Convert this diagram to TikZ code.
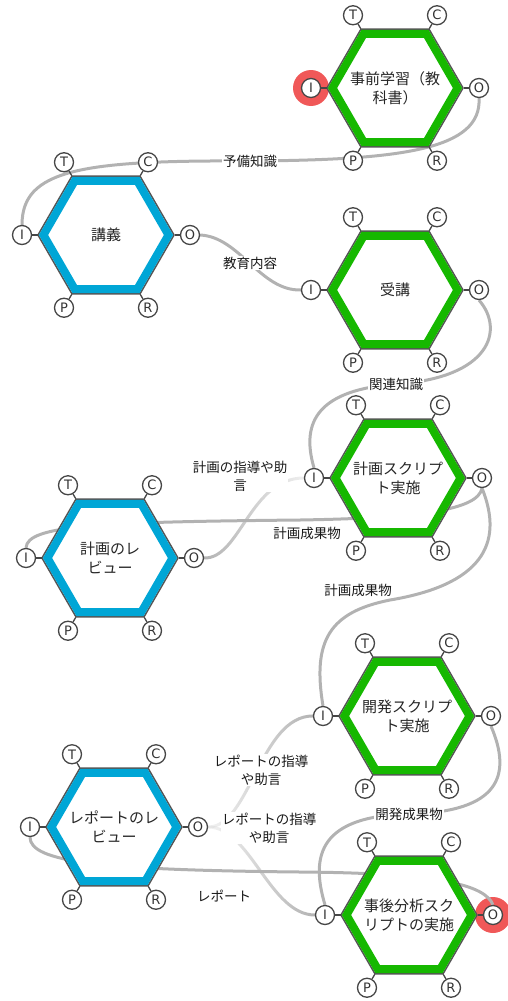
\documentclass[tikz,border=0pt]{standalone}
\usepackage{fontspec}
\setmainfont{Noto Sans CJK JP}
\newfontfamily\portfont{DejaVu Sans}
\usetikzlibrary{fadings}
\pgfdeclarelayer{background}
\pgfsetlayers{background,main}
\definecolor{framgreen}{RGB}{22,184,0}
\definecolor{framblue}{RGB}{0,166,214}
\definecolor{hexline}{RGB}{85,85,85}
\definecolor{conngray}{RGB}{178,178,178}
\definecolor{hilite}{RGB}{240,88,88}
\definecolor{portline}{RGB}{70,70,70}
\tikzfading[name=fadetoright, left color=transparent!0, middle color=transparent!15, right color=transparent!80]
\tikzfading[name=fadefromleft, left color=transparent!85, middle color=transparent!0, right color=transparent!0]
\tikzset{
  hexouter/.style={fill=white, draw=hexline, line width=1.5pt},
  hexring/.style={line width=8pt},
  hextext/.style={circle, inner sep=0pt, align=center, text=black!85,
    font=\fontsize{15}{19}\selectfont},
  port/.style={circle, draw=portline, line width=1.3pt, fill=white,
    minimum size=19pt, inner sep=0pt, text=black!80,
    font=\portfont\fontsize{13}{13}\selectfont},
  stub/.style={draw=portline, line width=1.3pt},
  conn/.style={draw=conngray, line width=3pt},
  elabel/.style={fill=white, inner sep=1pt, align=center, text=black!90,
    font=\fontsize{13.5}{18}\selectfont},
  hilitec/.style={circle, fill=hilite, minimum size=36pt, inner sep=0pt}
}
\newcommand\framfn[5]{%
  \coordinate (#1c) at (#2,#3);
  \draw[hexouter] ([shift={(0:68pt)}]#1c)
    \foreach \a in {60,120,...,300}{ -- ([shift={(\a:68pt)}]#1c)} -- cycle;
  \draw[hexring, draw=#4] ([shift={(0:62.5pt)}]#1c)
    \foreach \a in {60,120,...,300}{ -- ([shift={(\a:62.5pt)}]#1c)} -- cycle;
  \node[hextext] (#1) at (#1c) {#5};
  \foreach \p/\a in {T/120,C/60,O/0,R/-60,P/-120,I/180}{
    \node[port] (#1\p) at ([shift={(\a:84pt)}]#1c) {\p};
    \draw[stub] (#1\p) -- ([shift={(\a:68.5pt)}]#1c);
  }%
}
\begin{document}
\begin{tikzpicture}[x=1pt,y=1pt]
\useasboundingbox (0,0) rectangle (507,-1001);
% functions
\framfn{h1}{395}{-88}{framgreen}{事前学習（教\\科書）}
\framfn{h2}{106}{-235}{framblue}{講義}
\framfn{h3}{395}{-290}{framgreen}{受講}
\framfn{h4}{398}{-478}{framgreen}{計画スクリプ\\ト実施}
\framfn{h5}{110}{-558}{framblue}{計画のレ\\ビュー}
\framfn{h6}{407}{-716}{framgreen}{開発スクリプ\\ト実施}
\framfn{h7}{114}{-827}{framblue}{レポートのレ\\ビュー}
\framfn{h8}{409}{-915}{framgreen}{事後分析スク\\リプトの実施}
% edge labels
\node[elabel] (lbA) at (250,-161) {予備知識};
\node[elabel] (lbB) at (250,-263) {教育内容};
\node[elabel] (lbC) at (396,-384) {関連知識};
\node[elabel] (lbE) at (240,-476) {計画の指導や助\\言};
\node[elabel] (lbD1) at (307,-533) {計画成果物};
\node[elabel] (lbD2) at (358,-590) {計画成果物};
\node[elabel] (lbG) at (409,-814) {開発成果物};
\node[elabel] (lbH) at (261,-770) {レポートの指導\\や助言};
\node[elabel] (lbI) at (269,-828) {レポートの指導\\や助言};
\node[elabel] (lbJ) at (224,-896) {レポート};
\begin{pgfonlayer}{background}
\node[hilitec] (hl1) at (h1I) {};
\node[hilitec] (hl2) at (h8O) {};
% connectors
\draw[conn] (h1O.south) .. controls (482,-150) and (400,-160) .. (lbA.center)
  .. controls (80,-160) and (22,-170) .. (h2I.north);
\draw[conn] (h2O.east) .. controls (240,-237) and (260,-291) .. (h3I.west);
\draw[conn] (h3O.south) .. controls (505,-330) and (490,-378) .. (lbC.center)
  .. controls (320,-390) and (300,-420) .. (h4I.north);
\draw[conn] (h4O.south) .. controls (478,-510) and (420,-518) .. (300,-520)
  .. controls (100,-522) and (27,-525) .. (h5I.north);
\draw[conn] (h4O.south) .. controls (505,-545) and (480,-585) .. (390,-600)
  .. controls (330,-612) and (312,-640) .. (h6I.north);
\draw[conn, path fading=fadetoright] (h5O.east) .. controls (240,-559) and (250,-478) .. (h4I.west);
\draw[conn] (h6O.south) .. controls (512,-775) and (500,-812) .. (lbG.center)
  .. controls (320,-816) and (310,-855) .. (h8I.north);
\draw[conn, path fading=fadefromleft] (h7O.east) .. controls (250,-827) and (260,-716) .. (h6I.west);
\draw[conn, path fading=fadefromleft] (h7O.east) .. controls (250,-827) and (270,-915) .. (h8I.west);
\draw[conn] (h8O.north) .. controls (485,-885) and (440,-873) .. (300,-872)
  .. controls (100,-870) and (30,-862) .. (h7I.south);
\end{pgfonlayer}
\end{tikzpicture}
\end{document}
